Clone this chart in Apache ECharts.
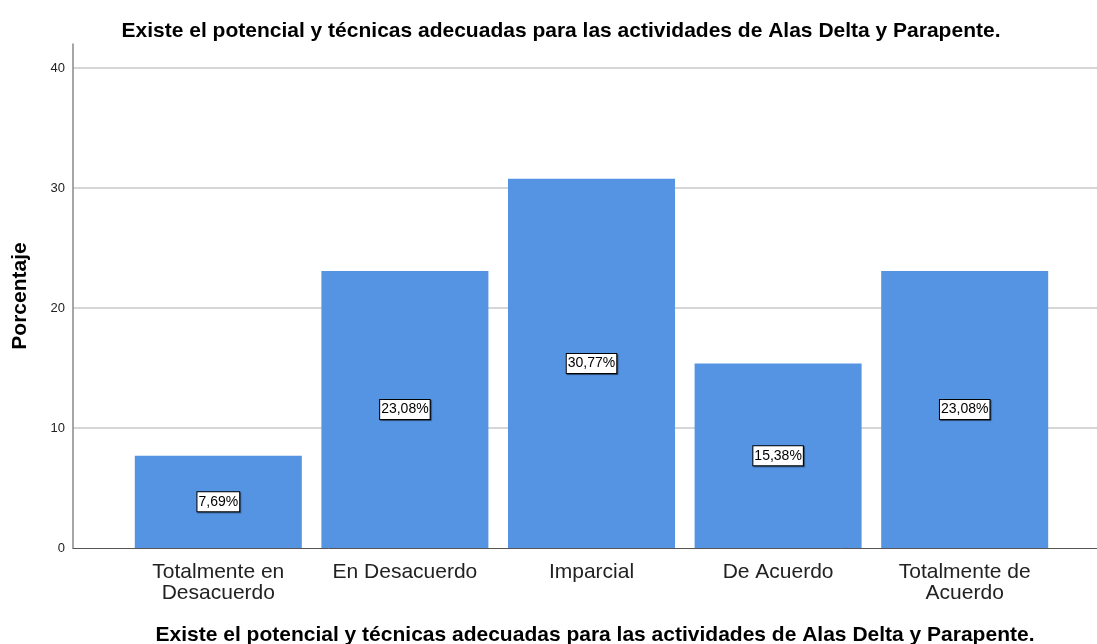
<!DOCTYPE html>
<html>
<head>
<meta charset="utf-8">
<script src="https://cdn.jsdelivr.net/npm/echarts@6/dist/echarts.min.js"></script>
<style>
  html, body { margin: 0; padding: 0; background: #fff; }
  #chart { width: 1097px; height: 644px; }
</style>
</head>
<body>
<div id="chart"></div>
<script>
var categories = ['Totalmente en\nDesacuerdo', 'En Desacuerdo', 'Imparcial', 'De Acuerdo', 'Totalmente de\nAcuerdo'];
var percentages = [7.69, 23.08, 30.77, 15.38, 23.08];
var yTicks = [0, 10, 20, 30, 40];

var chartDom = document.getElementById('chart');
var myChart = echarts.init(chartDom);
var font = 'Liberation Sans, Arial, sans-serif';

var option = {
  animation: false,
  textStyle: { fontFamily: font },
  title: [
    {
      text: 'Existe el potencial y técnicas adecuadas para las actividades de Alas Delta y Parapente.',
      left: 556,
      textAlign: 'center',
      top: 16,
      textStyle: { fontSize: 21, fontWeight: 'bold', color: '#000', fontFamily: font }
    },
    {
      text: 'Existe el potencial y técnicas adecuadas para las actividades de Alas Delta y Parapente.',
      left: 590,
      textAlign: 'center',
      top: 620,
      textStyle: { fontSize: 21, fontWeight: 'bold', color: '#000', fontFamily: font }
    }
  ],
  grid: [
    { left: 73, right: 0, top: 44, bottom: 96 },
    { left: 125, right: 39, top: 44, bottom: 96 }
  ],
  xAxis: [
    {
      type: 'value',
      gridIndex: 0,
      min: 0,
      max: 1,
      axisLine: { show: true, onZero: false, lineStyle: { color: '#555', width: 1 } },
      axisTick: { show: false },
      axisLabel: { show: false },
      splitLine: { show: false }
    },
    {
      type: 'category',
      gridIndex: 1,
      data: categories,
      axisLine: { show: false },
      axisTick: { show: false },
      axisLabel: { fontSize: 21, color: '#222', lineHeight: 21, margin: 14, interval: 0 }
    }
  ],
  yAxis: [
    {
      type: 'value',
      gridIndex: 0,
      min: 0,
      max: 42,
      interval: 10,
      name: 'Porcentaje',
      nameLocation: 'middle',
      nameGap: 42,
      nameTextStyle: { fontSize: 21, fontWeight: 'bold', color: '#000' },
      axisLine: { show: true, lineStyle: { color: '#888', width: 1.5 } },
      axisTick: { show: false },
      axisLabel: {
        fontSize: 13,
        color: '#222',
        margin: 8,
        showMaxLabel: false,
        formatter: function (v) { return yTicks.indexOf(v) >= 0 ? String(v) : ''; }
      },
      splitLine: { show: true, showMinLine: false, showMaxLine: false, lineStyle: { color: '#c8c8c8', width: 1.5 } }
    },
    {
      type: 'value',
      gridIndex: 1,
      min: 0,
      max: 42,
      interval: 10,
      show: false,
      splitLine: { show: false }
    }
  ],
  series: [
    {
      type: 'bar',
      xAxisIndex: 1,
      yAxisIndex: 1,
      data: percentages,
      barWidth: 167,
      itemStyle: { color: '#5594e3' },
      label: {
        show: true,
        position: 'inside',
        formatter: function (p) { return p.value.toFixed(2).replace('.', ',') + '%'; },
        fontSize: 14,
        color: '#000',
        backgroundColor: '#fff',
        borderColor: '#000',
        borderWidth: 1,
        padding: [3, 1, 2, 1],
        shadowColor: 'rgba(0,0,0,0.5)',
        shadowOffsetX: 1,
        shadowOffsetY: 1,
        shadowBlur: 1
      }
    }
  ]
};

option && myChart.setOption(option);
</script>
</body>
</html>
